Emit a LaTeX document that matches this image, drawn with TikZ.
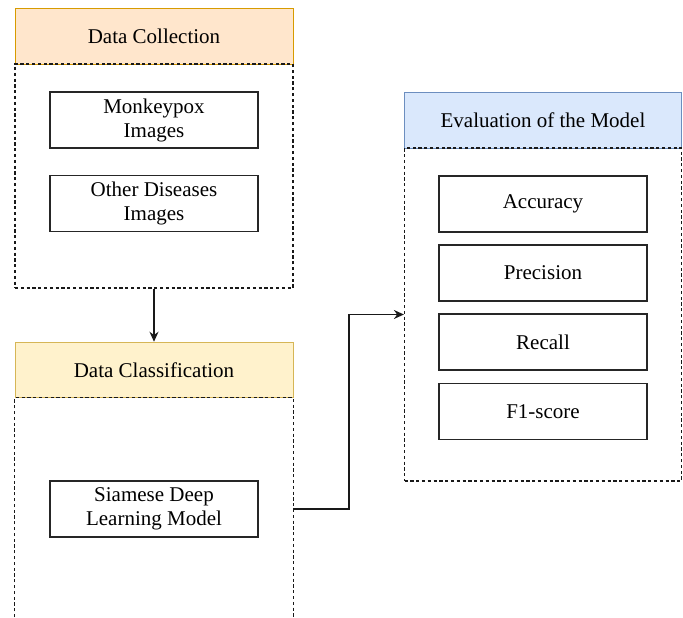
\documentclass[tikz,border=0pt]{standalone}
\usepackage{fontspec}
\setmainfont{Liberation Serif}
\newfontfamily\tnrfont{Liberation Serif}
\usetikzlibrary{arrows.meta}
\definecolor{orfill}{HTML}{FFE6CC}\definecolor{ordraw}{HTML}{D79B00}
\definecolor{yefill}{HTML}{FFF2CC}\definecolor{yedraw}{HTML}{D6B656}
\definecolor{blfill}{HTML}{DAE8FC}\definecolor{bldraw}{HTML}{6C8EBF}
\begin{document}
\begin{tikzpicture}[x=1pt,y=-1pt,
  txt/.style={font=\tnrfont\fontsize{21}{24}\selectfont, align=center, inner sep=0pt},
  itembox/.style={txt, draw=black!85, line width=1.2pt, minimum width=208pt, minimum height=56pt},
  headbox/.style={txt, line width=1pt, minimum height=55.5pt},
  cont/.style={draw=black!90, line width=1.2pt, dash pattern=on 3.2pt off 2.6pt, inner sep=0pt},
  conn/.style={draw=black!90, line width=1.2pt, -{Stealth[length=10pt,width=9pt]}}]
\useasboundingbox (0,0) rectangle (683,618);
% Data Collection
\node[headbox, fill=orfill, draw=ordraw, minimum width=278pt] (dchead) at (154,36.5) {Data Collection};
\node[cont, minimum width=278pt, minimum height=224pt] (dccont) at (154,176) {};
\node[itembox] (monkey) at (154,120) {Monkeypox\\Images};
\node[itembox] (other) at (154,203.5) {Other Diseases\\Images};
% Data Classification
\node[headbox, fill=yefill, draw=yedraw, minimum width=278pt] (clhead) at (154,370) {Data Classification};
\node[inner sep=0pt, minimum width=278pt, minimum height=219pt] (clcont) at (154,507.5) {};
\draw[cont] (clcont.south west) -- (clcont.north west) -- (clcont.north east) -- (clcont.south east);
\node[itembox] (siam) at (154,509) {Siamese Deep\\Learning Model};
% Evaluation
\node[headbox, fill=blfill, draw=bldraw, minimum width=277pt] (evhead) at (543,120.5) {Evaluation of the Model};
\node[cont, minimum width=277pt, minimum height=333pt] (evcont) at (543,314.5) {};
\node[itembox] (acc) at (543,204) {Accuracy};
\node[itembox] (prec) at (543,273) {Precision};
\node[itembox] (rec) at (543,342) {Recall};
\node[itembox] (f1) at (543,411.5) {F1-score};
% connectors
\draw[conn] (dccont.south) -- (clhead.north);
\coordinate (cstart) at (siam.east -| clcont.east);
\draw[conn] (cstart) -- (349,509) |- (evcont.west);
\end{tikzpicture}
\end{document}
